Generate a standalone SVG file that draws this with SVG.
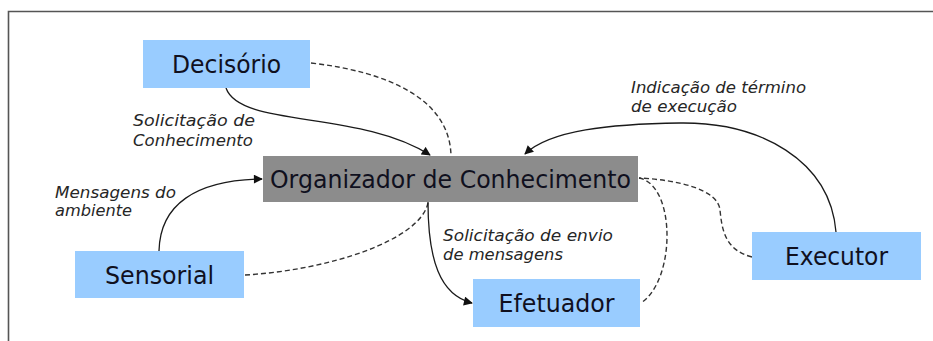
<svg xmlns="http://www.w3.org/2000/svg" width="933" height="341" viewBox="0 0 933 341">
<style>
.bg{fill:#ffffff}
.frame{fill:none;stroke:#555;stroke-width:1.6}
.blue{fill:#99CCFF}
.gray{fill:#8C8C8C}
.nt{font-family:"DejaVu Sans","Liberation Sans",sans-serif;font-size:24px;fill:#10101e;text-anchor:middle}
.lbl{font-family:"DejaVu Sans","Liberation Sans",sans-serif;font-size:15px;font-style:italic;fill:#262626}
.solid{fill:none;stroke:#1a1a1a;stroke-width:1.3;marker-end:url(#arr)}
.dash{fill:none;stroke:#333;stroke-width:1.4;stroke-dasharray:5 3}
</style>
<defs>
<marker id="arr" viewBox="0 0 10 10" refX="9" refY="5" markerWidth="10" markerHeight="9" markerUnits="userSpaceOnUse" orient="auto">
<path d="M0,0 L10,5 L0,10 Z" fill="#111"/>
</marker>
</defs>
<rect class="bg" x="0" y="0" width="933" height="341"/>
<path class="frame" d="M8.5,341 L8.5,11.5 L933,11.5"/>

<g id="connectors">
<path id="c-dec-org" class="solid" d="M226,88 C240,128 360,110 430,155"/>
<path id="c-dec-org-dash" class="dash" d="M311,63 C390,72 450,100 451,156"/>
<path id="c-exe-org" class="solid" d="M836,232 C830,160 760,122 680,123 C610,124 550,130 525,154"/>
<path id="c-sen-org" class="solid" d="M159,251 C160,205 195,180 262,179"/>
<path id="c-sen-org-dash" class="dash" d="M245,275 C330,270 420,240 428,203"/>
<path id="c-org-efe" class="solid" d="M428,202 C428,260 440,295 472,303"/>
<path id="c-efe-org-dash" class="dash" d="M639,178 C676,185 676,280 641,303"/>
<path id="c-exe-org-dash" class="dash" d="M752,257 C725,250 722,230 720,210 C718,190 680,180 639,178"/>
</g>

<g id="labels">
<text class="lbl" x="133" y="126" textLength="122" lengthAdjust="spacingAndGlyphs">Solicitação  de</text>
<text class="lbl" x="133" y="146" textLength="120" lengthAdjust="spacingAndGlyphs">Conhecimento</text>
<text class="lbl" x="55" y="198" textLength="121" lengthAdjust="spacingAndGlyphs">Mensagens do</text>
<text class="lbl" x="55" y="216" textLength="77" lengthAdjust="spacingAndGlyphs">ambiente</text>
<text class="lbl" x="443" y="241" textLength="170" lengthAdjust="spacingAndGlyphs">Solicitação de envio</text>
<text class="lbl" x="443" y="260" textLength="120" lengthAdjust="spacingAndGlyphs">de mensagens</text>
<text class="lbl" x="631" y="93" textLength="175" lengthAdjust="spacingAndGlyphs">Indicação de término</text>
<text class="lbl" x="631" y="112" textLength="106" lengthAdjust="spacingAndGlyphs">de execução</text>
</g>

<g id="decisorio">
<rect class="blue" x="143" y="40" width="167" height="48"/>
<text class="nt" x="226.5" y="73" textLength="109" lengthAdjust="spacingAndGlyphs">Decisório</text>
</g>
<g id="organizador">
<rect class="gray" x="263" y="156" width="375" height="46"/>
<text class="nt" x="450.5" y="188" textLength="361" lengthAdjust="spacingAndGlyphs">Organizador de Conhecimento</text>
</g>
<g id="sensorial">
<rect class="blue" x="75" y="251" width="169" height="47"/>
<text class="nt" x="159.5" y="284" textLength="109" lengthAdjust="spacingAndGlyphs">Sensorial</text>
</g>
<g id="efetuador">
<rect class="blue" x="473" y="279" width="167" height="48"/>
<text class="nt" x="556.5" y="312" textLength="116" lengthAdjust="spacingAndGlyphs">Efetuador</text>
</g>
<g id="executor">
<rect class="blue" x="752" y="232" width="169" height="48"/>
<text class="nt" x="836.5" y="265" textLength="103" lengthAdjust="spacingAndGlyphs">Executor</text>
</g>
</svg>
